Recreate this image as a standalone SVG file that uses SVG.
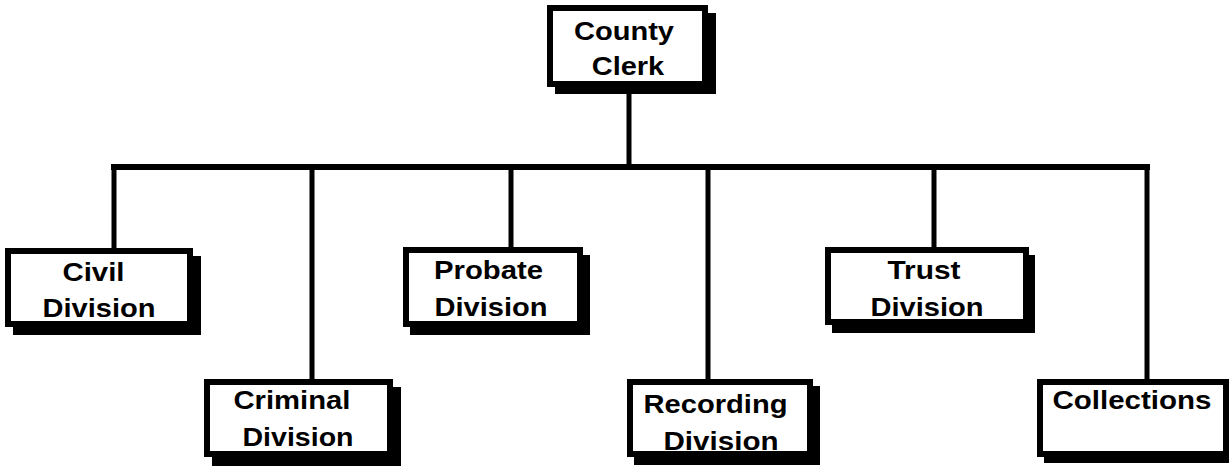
<svg xmlns="http://www.w3.org/2000/svg" width="1229" height="466" viewBox="0 0 1229 466">
<style>
.shadow{fill:#000;stroke:none}
.box{fill:#fff;stroke:#000;stroke-width:6}
.lbl{font-family:"Liberation Sans",Arial,Helvetica,sans-serif;font-weight:bold;font-size:26.5px;fill:#000;text-anchor:middle}
.conn{stroke:#000;stroke-width:5;fill:none;stroke-linecap:butt}
.bus{stroke:#000;stroke-width:6;fill:none;stroke-linecap:square}
</style>
<rect width="1229" height="466" fill="#fff"/>
<g id="connectors">
<line class="conn" x1="629" y1="85" x2="629" y2="167"/>
<line class="bus" x1="114" y1="167" x2="1147" y2="167"/>
<line class="conn" x1="114" y1="167" x2="114" y2="250"/>
<line class="conn" x1="312" y1="167" x2="312" y2="381"/>
<line class="conn" x1="511" y1="167" x2="511" y2="249"/>
<line class="conn" x1="708" y1="167" x2="708" y2="381"/>
<line class="conn" x1="934" y1="167" x2="934" y2="249"/>
<line class="conn" x1="1147" y1="167" x2="1147" y2="381"/>
</g>
<g id="county-clerk">
<rect class="shadow" x="555" y="13" width="161" height="81"/>
<rect class="box" x="550" y="8" width="155" height="76"/>
<text class="lbl" x="624" y="40" textLength="100" lengthAdjust="spacingAndGlyphs">County</text>
<text class="lbl" x="628" y="75" textLength="72.5" lengthAdjust="spacingAndGlyphs">Clerk</text>
</g>
<g id="civil-division">
<rect class="shadow" x="13" y="256" width="188" height="79"/>
<rect class="box" x="8" y="251" width="182" height="73"/>
<text class="lbl" x="93.5" y="281" textLength="62" lengthAdjust="spacingAndGlyphs">Civil</text>
<text class="lbl" x="99" y="317" textLength="113" lengthAdjust="spacingAndGlyphs">Division</text>
</g>
<g id="criminal-division">
<rect class="shadow" x="212" y="387" width="189" height="79"/>
<rect class="box" x="207" y="382" width="183" height="72"/>
<text class="lbl" x="292" y="409" textLength="117" lengthAdjust="spacingAndGlyphs">Criminal</text>
<text class="lbl" x="298" y="446" textLength="111" lengthAdjust="spacingAndGlyphs">Division</text>
</g>
<g id="probate-division">
<rect class="shadow" x="410" y="255" width="180" height="80"/>
<rect class="box" x="406" y="250" width="174" height="74"/>
<text class="lbl" x="488.5" y="279" textLength="109" lengthAdjust="spacingAndGlyphs">Probate</text>
<text class="lbl" x="491" y="316" textLength="113" lengthAdjust="spacingAndGlyphs">Division</text>
</g>
<g id="recording-division">
<rect class="shadow" x="634" y="386" width="186" height="79"/>
<rect class="box" x="630" y="382" width="180" height="72"/>
<text class="lbl" x="715.5" y="413" textLength="144" lengthAdjust="spacingAndGlyphs">Recording</text>
<text class="lbl" x="721" y="450" textLength="115" lengthAdjust="spacingAndGlyphs">Division</text>
</g>
<g id="trust-division">
<rect class="shadow" x="832" y="255" width="203" height="78"/>
<rect class="box" x="828" y="250" width="198" height="72"/>
<text class="lbl" x="924" y="279" textLength="73" lengthAdjust="spacingAndGlyphs">Trust</text>
<text class="lbl" x="927" y="316" textLength="113" lengthAdjust="spacingAndGlyphs">Division</text>
</g>
<g id="collections">
<rect class="shadow" x="1044" y="385" width="192" height="78"/>
<rect class="box" x="1040" y="382" width="186" height="72"/>
<text class="lbl" x="1132" y="409" textLength="159" lengthAdjust="spacingAndGlyphs">Collections</text>
</g>
</svg>
